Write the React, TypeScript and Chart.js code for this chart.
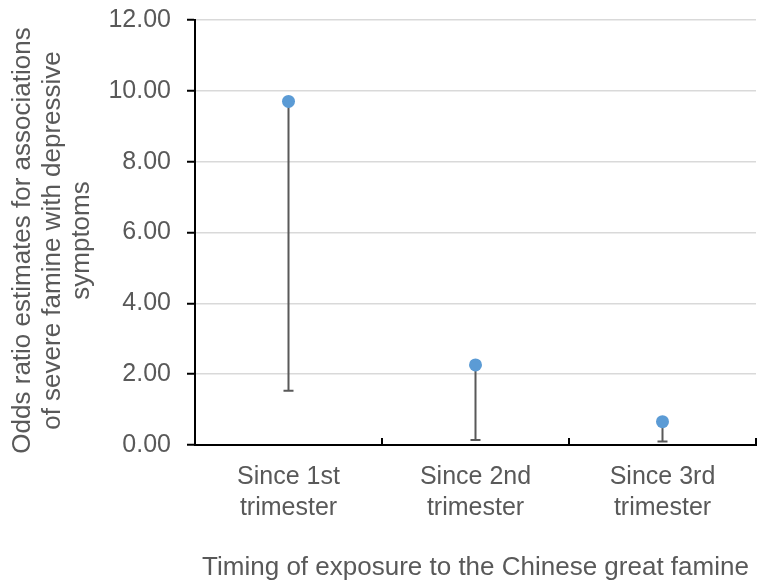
import React, { useEffect, useRef } from "react";
import { Chart, registerables } from "chart.js";

Chart.register(...registerables);

const categories: string[][] = [
  ["Since 1st", "trimester"],
  ["Since 2nd", "trimester"],
  ["Since 3rd", "trimester"],
];
const oddsRatios: number[] = [9.7, 2.26, 0.66];
const lowerCI: number[] = [1.53, 0.14, 0.1];
const yTicks: number[] = [0, 2, 4, 6, 8, 10, 12];
const yTitleLines: string[] = [
  "Odds ratio estimates for associations",
  "of severe famine with depressive",
  "symptoms",
];
const xTitle = "Timing of exposure to the Chinese great famine";

const FONT = "'Liberation Sans', Arial, sans-serif";
const TEXT = "#595959";

const errorBarPlugin = {
  id: "errorBars",
  beforeDatasetsDraw(chart: any) {
    const { ctx, scales } = chart;
    const x = scales.x;
    const y = scales.y;
    ctx.save();
    ctx.strokeStyle = "#595959";
    ctx.lineWidth = 2;
    oddsRatios.forEach((v, i) => {
      const px = x.getPixelForValue(i);
      const top = y.getPixelForValue(v);
      const bot = y.getPixelForValue(lowerCI[i]);
      ctx.beginPath();
      ctx.moveTo(px, top);
      ctx.lineTo(px, bot);
      ctx.moveTo(px - 5, bot);
      ctx.lineTo(px + 5, bot);
      ctx.stroke();
    });
    ctx.restore();
  },
  afterDraw(chart: any) {
    const { ctx, scales, chartArea } = chart;
    const x = scales.x;
    const step = x.getPixelForValue(1) - x.getPixelForValue(0);
    ctx.save();
    ctx.strokeStyle = "#000";
    ctx.lineWidth = 2;
    for (let i = 1; i <= categories.length; i++) {
      const bx = Math.round(x.getPixelForValue(i - 1) + step / 2);
      ctx.beginPath();
      ctx.moveTo(bx, chartArea.bottom);
      ctx.lineTo(bx, chartArea.bottom - 7);
      ctx.stroke();
    }
    // y axis title (three lines, rotated)
    const cy = (chartArea.top + chartArea.bottom) / 2 + 8;
    ctx.fillStyle = TEXT;
    ctx.font = `26px ${FONT}`;
    ctx.textAlign = "center";
    ctx.textBaseline = "middle";
    yTitleLines.forEach((line, i) => {
      ctx.save();
      ctx.translate(23 + i * 29.5, cy);
      ctx.rotate(-Math.PI / 2);
      ctx.fillText(line, 0, 0);
      ctx.restore();
    });
    ctx.restore();
  },
};

export default function App() {
  const ref = useRef<HTMLCanvasElement>(null);
  useEffect(() => {
    const canvas = ref.current!;
    const chart = new Chart(canvas, {
      type: "line",
      data: {
        labels: categories,
        datasets: [
          {
            data: oddsRatios,
            showLine: false,
            pointRadius: 6.5,
            pointHoverRadius: 6.5,
            pointBackgroundColor: "#5B9BD5",
            pointBorderColor: "#5B9BD5",
            pointBorderWidth: 0,
            borderColor: "#5B9BD5",
          },
        ],
      },
      options: {
        responsive: false,
        animation: false,
        events: [],
        layout: { padding: { left: 0, right: 9, top: 20, bottom: 0 } },
        plugins: {
          legend: { display: false },
          tooltip: { enabled: false },
        },
        scales: {
          x: {
            type: "category",
            offset: true,
            grid: {
              offset: true,
              drawOnChartArea: false,
              drawTicks: false,
            },
            border: { display: true, color: "#000", width: 2 },
            ticks: {
              color: TEXT,
              padding: 17,
              maxRotation: 0,
              font: { family: FONT, size: 25, lineHeight: 1.24 },
            },
            title: {
              display: true,
              text: xTitle,
              color: TEXT,
              padding: { top: 4, bottom: 0 },
              font: { family: FONT, size: 26, lineHeight: 1.1 },
            },
            afterFit(scale: any) {
              scale.height = 137;
              scale.paddingLeft = 0;
              scale.paddingRight = 0;
            },
          },
          y: {
            min: 0,
            max: 12,
            afterBuildTicks(scale: any) {
              scale.ticks = yTicks.map((v) => ({ value: v }));
            },
            grid: {
              color: "#d9d9d9",
              lineWidth: 1.5,
              tickColor: "#000",
              tickLength: 8,
              tickWidth: 2,
            },
            border: { display: true, color: "#000", width: 2 },
            ticks: {
              color: TEXT,
              padding: 16,
              font: { family: FONT, size: 25, lineHeight: 1.2 },
              callback: (v: any) => Number(v).toFixed(2),
            },
            title: { display: false },
            afterFit(scale: any) {
              scale.width = 195;
              scale.paddingTop = 0;
              scale.paddingBottom = 0;
            },
          },
        },
      },
      plugins: [errorBarPlugin],
    } as any);
    return () => chart.destroy();
  }, []);
  return (
    <div style={{ position: "absolute", left: 0, top: 0, width: 765, height: 582, background: "#fff" }}>
      <canvas ref={ref} width={765} height={582} style={{ display: "block" }} />
    </div>
  );
}
